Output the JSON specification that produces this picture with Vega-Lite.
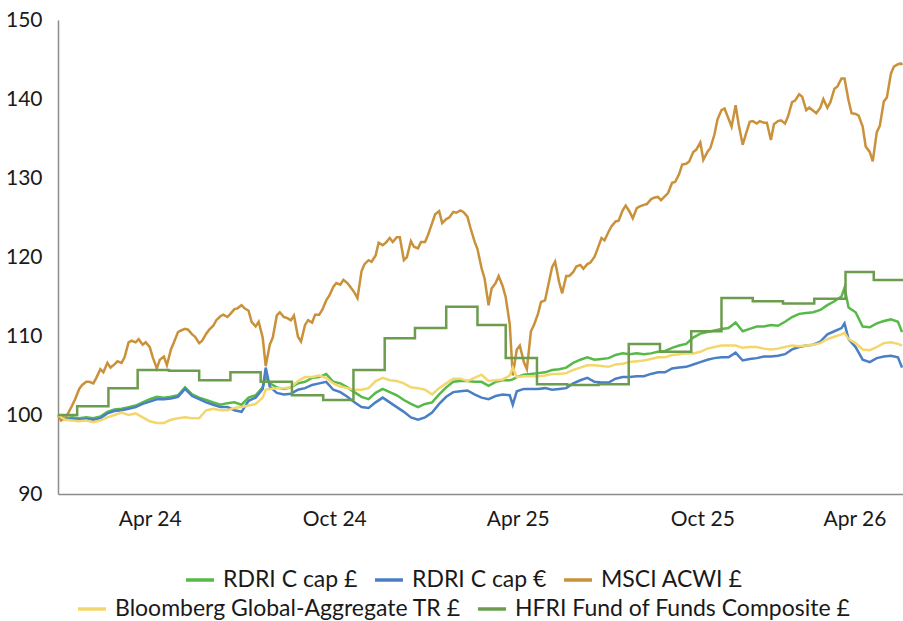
{
  "$schema": "https://vega.github.io/schema/vega-lite/v6.json",
  "width": 845,
  "height": 474,
  "autosize": {"type": "none"},
  "padding": {"left": 58, "top": 20, "right": 0, "bottom": 127},
  "config": {
    "view": {"stroke": null},
    "font": "Lato",
    "axis": {"grid": false, "ticks": false, "domainColor": "#8c8c8c", "domainWidth": 1.5, "labelFont": "Lato", "labelFontSize": 21, "labelColor": "#1a1a1a", "title": null},
    "legend": {"labelFont": "Lato", "labelFontSize": 23, "labelColor": "#1a1a1a", "labelLimit": 0, "padding": 0}
  },
  "datasets": {
    "w": [
      {"d":"2024-01-01","g":100,"b":100,"m":100,"y":100},{"d":"2024-01-04","m":99.3},
      {"d":"2024-01-08","g":99.6,"b":99.4,"m":99.6,"y":99.4},{"d":"2024-01-11","m":100.2},
      {"d":"2024-01-15","g":99.7,"b":99.5,"m":101.2,"y":99.3},{"d":"2024-01-18","m":102.0},
      {"d":"2024-01-22","g":99.6,"b":99.4,"m":103.3,"y":99.2},{"d":"2024-01-25","m":103.8},
      {"d":"2024-01-29","g":99.7,"b":99.5,"m":104.2,"y":99.3},{"d":"2024-02-01","m":104.2},
      {"d":"2024-02-05","g":99.6,"b":99.4,"m":104.0,"y":99.1},{"d":"2024-02-08","m":104.7},
      {"d":"2024-02-12","g":99.8,"b":99.6,"m":105.8,"y":99.3},{"d":"2024-02-15","m":105.4},
      {"d":"2024-02-19","g":100.4,"b":100.2,"m":106.6,"y":99.7},{"d":"2024-02-22","m":106.0},
      {"d":"2024-02-26","g":100.7,"b":100.5,"m":106.4,"y":100.0},{"d":"2024-02-29","m":106.8},
      {"d":"2024-03-04","g":100.8,"b":100.6,"m":106.6,"y":100.3},{"d":"2024-03-07","m":107.3},
      {"d":"2024-03-11","g":101.0,"b":100.8,"m":109.2,"y":100.0},{"d":"2024-03-14","m":109.4},
      {"d":"2024-03-18","g":101.2,"b":101.0,"m":109.2,"y":100.2},{"d":"2024-03-21","m":109.6},
      {"d":"2024-03-25","g":101.6,"b":101.4,"m":108.9,"y":99.7},{"d":"2024-03-28","m":109.2},
      {"d":"2024-04-01","g":102.0,"b":101.7,"m":108.6,"y":99.2},{"d":"2024-04-04","m":107.3},
      {"d":"2024-04-08","g":102.3,"b":102.0,"m":105.9,"y":99.0},{"d":"2024-04-11","m":107.0},
      {"d":"2024-04-15","g":102.2,"b":102.0,"m":107.4,"y":99.0},{"d":"2024-04-18","m":106.3},
      {"d":"2024-04-22","g":102.3,"b":102.1,"m":108.3,"y":99.4},{"d":"2024-04-25","m":109.2},
      {"d":"2024-04-29","g":102.5,"b":102.3,"m":110.5,"y":99.6},{"d":"2024-05-02","m":110.7},
      {"d":"2024-05-06","g":103.5,"b":103.3,"m":110.9,"y":99.7},{"d":"2024-05-09","m":110.8},
      {"d":"2024-05-13","g":102.6,"b":102.4,"m":110.2,"y":99.6},{"d":"2024-05-16","m":109.9},
      {"d":"2024-05-20","g":102.2,"b":102.0,"m":109.1,"y":99.6},{"d":"2024-05-23","m":109.4},
      {"d":"2024-05-27","g":101.9,"b":101.6,"m":110.3,"y":100.6},{"d":"2024-05-30","m":110.8},
      {"d":"2024-06-03","g":101.6,"b":101.3,"m":111.3,"y":100.8},{"d":"2024-06-06","m":112.0},
      {"d":"2024-06-10","g":101.3,"b":101.0,"m":112.5,"y":100.6},{"d":"2024-06-13","m":112.7},
      {"d":"2024-06-17","g":101.5,"b":101.0,"m":112.4,"y":100.6},{"d":"2024-06-20","m":112.8},
      {"d":"2024-06-24","g":101.6,"b":100.6,"m":113.4,"y":100.9},{"d":"2024-06-27","m":113.5},
      {"d":"2024-07-01","g":101.3,"b":100.4,"m":113.9,"y":101.0},{"d":"2024-07-04","m":113.5},
      {"d":"2024-07-08","g":102.2,"b":101.8,"m":113.2,"y":101.2},{"d":"2024-07-11","m":111.8},
      {"d":"2024-07-15","g":102.5,"b":102.2,"m":111.2,"y":101.4},{"d":"2024-07-18","m":111.8},
      {"d":"2024-07-22","g":103.5,"b":103.3,"m":109.8,"y":102.2},{"d":"2024-07-25","g":104.8,"b":106.0,"m":106.2,"y":103.2},
      {"d":"2024-07-29","g":104.0,"b":103.6,"m":108.9,"y":103.3},{"d":"2024-08-01","m":109.8},
      {"d":"2024-08-05","g":103.5,"b":102.8,"m":112.6,"y":103.4},{"d":"2024-08-08","m":113.0},
      {"d":"2024-08-12","g":103.3,"b":102.6,"m":112.4,"y":103.4},{"d":"2024-08-15","m":112.3},
      {"d":"2024-08-19","g":103.5,"b":102.7,"m":112.0,"y":103.5},{"d":"2024-08-22","m":112.6},
      {"d":"2024-08-26","g":104.0,"b":103.2,"m":109.9,"y":104.3},{"d":"2024-08-29","m":109.3},
      {"d":"2024-09-02","g":104.2,"b":103.4,"m":111.4,"y":104.8},{"d":"2024-09-05","m":112.0},
      {"d":"2024-09-09","g":104.7,"b":103.8,"m":111.7,"y":104.8},{"d":"2024-09-12","m":112.7},
      {"d":"2024-09-16","g":104.8,"b":104.0,"m":112.7,"y":105.0},{"d":"2024-09-19","m":113.3},
      {"d":"2024-09-23","g":105.2,"b":104.2,"m":114.5,"y":104.7},{"d":"2024-09-26","m":115.1},
      {"d":"2024-09-30","g":104.2,"b":103.2,"m":116.2,"y":104.0},{"d":"2024-10-03","m":116.7},
      {"d":"2024-10-07","g":104.0,"b":102.9,"m":116.5,"y":103.6},{"d":"2024-10-10","m":117.1},
      {"d":"2024-10-14","g":103.5,"b":102.3,"m":116.7,"y":103.4},{"d":"2024-10-17","m":116.2},
      {"d":"2024-10-21","g":102.9,"b":101.6,"m":115.5,"y":103.2},{"d":"2024-10-24","m":114.8},
      {"d":"2024-10-28","g":102.3,"b":101.0,"m":118.2,"y":103.2},{"d":"2024-10-31","m":119.1},
      {"d":"2024-11-04","g":102.0,"b":100.9,"m":119.6,"y":103.4},{"d":"2024-11-07","m":119.4},
      {"d":"2024-11-11","g":102.8,"b":101.6,"m":120.2,"y":104.3},{"d":"2024-11-14","m":121.8},
      {"d":"2024-11-18","g":103.3,"b":102.2,"m":121.5,"y":104.7},{"d":"2024-11-21","m":121.8},
      {"d":"2024-11-25","g":102.9,"b":101.6,"m":122.4,"y":104.4},{"d":"2024-11-28","m":121.9},
      {"d":"2024-12-02","g":102.5,"b":101.0,"m":122.5,"y":104.3},{"d":"2024-12-05","m":122.5},
      {"d":"2024-12-09","g":101.9,"b":100.4,"m":119.6,"y":104.0},{"d":"2024-12-12","m":120.0},
      {"d":"2024-12-16","g":101.4,"b":99.7,"m":122.0,"y":103.5},{"d":"2024-12-19","m":121.3},
      {"d":"2024-12-23","g":101.0,"b":99.4,"m":121.1,"y":103.4},{"d":"2024-12-26","m":121.9},
      {"d":"2024-12-30","g":101.4,"b":99.7,"m":121.9,"y":103.2},{"d":"2025-01-02","m":122.8},
      {"d":"2025-01-06","g":101.6,"b":100.3,"m":124.3,"y":102.6},{"d":"2025-01-09","m":125.4},
      {"d":"2025-01-13","g":102.6,"b":101.4,"m":125.8,"y":103.4},{"d":"2025-01-16","m":124.3},
      {"d":"2025-01-20","g":103.5,"b":102.3,"m":124.8,"y":104.0},{"d":"2025-01-23","m":125.0},
      {"d":"2025-01-27","g":104.2,"b":102.9,"m":125.7,"y":104.6},{"d":"2025-01-30","m":125.6},
      {"d":"2025-02-03","g":104.3,"b":103.0,"m":125.9,"y":104.6},{"d":"2025-02-06","m":125.7},
      {"d":"2025-02-10","g":104.3,"b":103.1,"m":125.1,"y":104.3},{"d":"2025-02-13","m":123.7},
      {"d":"2025-02-17","g":104.2,"b":102.6,"m":122.0,"y":104.7},{"d":"2025-02-20","m":121.0},
      {"d":"2025-02-24","g":104.2,"b":102.2,"m":118.6,"y":105.1},{"d":"2025-02-27","m":117.3},
      {"d":"2025-03-03","g":103.7,"b":102.0,"m":113.9,"y":104.3},{"d":"2025-03-06","m":116.0},
      {"d":"2025-03-10","g":104.2,"b":102.4,"m":116.7,"y":104.4},{"d":"2025-03-13","m":117.6},
      {"d":"2025-03-17","g":104.4,"b":102.6,"m":116.3,"y":104.5},{"d":"2025-03-20","m":114.9},
      {"d":"2025-03-24","g":104.4,"b":102.5,"m":111.5,"y":105.0},{"d":"2025-03-27","g":104.5,"b":101.3,"m":105.0,"y":106.0},
      {"d":"2025-03-31","g":104.8,"b":103.0,"m":108.3,"y":104.8},{"d":"2025-04-03","m":108.8},
      {"d":"2025-04-07","g":105.1,"b":103.3,"m":106.7,"y":104.9},{"d":"2025-04-10","m":105.8},
      {"d":"2025-04-14","g":105.2,"b":103.3,"m":110.6,"y":104.9},{"d":"2025-04-17","m":111.4},
      {"d":"2025-04-21","g":105.3,"b":103.3,"m":112.8,"y":104.9},{"d":"2025-04-24","m":114.3},
      {"d":"2025-04-28","g":105.4,"b":103.4,"m":114.5,"y":105.0},{"d":"2025-05-01","m":116.3},
      {"d":"2025-05-05","g":105.7,"b":103.2,"m":118.7,"y":105.2},{"d":"2025-05-08","m":119.4},
      {"d":"2025-05-12","g":105.8,"b":103.3,"m":116.8,"y":105.2},{"d":"2025-05-15","m":115.4},
      {"d":"2025-05-19","g":106.0,"b":103.4,"m":117.6,"y":105.3},{"d":"2025-05-22","m":117.6},
      {"d":"2025-05-26","g":106.6,"b":104.0,"m":118.1,"y":105.7},{"d":"2025-05-29","m":118.8},
      {"d":"2025-06-02","g":107.0,"b":104.4,"m":119.0,"y":106.0},{"d":"2025-06-05","m":118.5},
      {"d":"2025-06-09","g":107.3,"b":104.7,"m":119.1,"y":106.3},{"d":"2025-06-12","m":119.3},
      {"d":"2025-06-16","g":107.0,"b":104.2,"m":120.0,"y":106.3},{"d":"2025-06-19","m":121.0},
      {"d":"2025-06-23","g":107.1,"b":104.1,"m":122.4,"y":106.2},{"d":"2025-06-26","m":122.1},
      {"d":"2025-06-30","g":107.2,"b":104.1,"m":123.2,"y":106.1},{"d":"2025-07-03","m":123.9},
      {"d":"2025-07-07","g":107.6,"b":104.6,"m":124.5,"y":106.4},{"d":"2025-07-10","m":124.6},
      {"d":"2025-07-14","g":107.8,"b":104.8,"m":125.9,"y":106.5},{"d":"2025-07-17","m":126.5},
      {"d":"2025-07-21","g":107.7,"b":104.8,"m":125.7,"y":106.7},{"d":"2025-07-24","m":124.9},
      {"d":"2025-07-28","g":107.8,"b":104.9,"m":126.2,"y":106.8},{"d":"2025-07-31","m":126.4},
      {"d":"2025-08-04","g":107.7,"b":104.9,"m":126.6,"y":106.9},{"d":"2025-08-07","m":126.7},
      {"d":"2025-08-11","g":107.8,"b":105.2,"m":127.3,"y":107.1},{"d":"2025-08-14","m":127.5},
      {"d":"2025-08-18","g":108.0,"b":105.4,"m":127.6,"y":107.3},{"d":"2025-08-21","m":127.2},
      {"d":"2025-08-25","g":108.1,"b":105.4,"m":127.7,"y":107.3},{"d":"2025-08-28","m":128.1},
      {"d":"2025-09-01","g":108.5,"b":105.9,"m":129.4,"y":107.6},{"d":"2025-09-04","m":129.5},
      {"d":"2025-09-08","g":108.8,"b":106.0,"m":130.5,"y":107.7},{"d":"2025-09-11","m":131.7},
      {"d":"2025-09-15","g":109.0,"b":106.1,"m":131.8,"y":107.8},{"d":"2025-09-18","m":132.1},
      {"d":"2025-09-22","g":109.8,"b":106.4,"m":133.3,"y":107.8},{"d":"2025-09-25","m":133.6},
      {"d":"2025-09-29","g":110.3,"b":106.7,"m":134.5,"y":108.0},{"d":"2025-10-02","m":132.3},
      {"d":"2025-10-06","g":110.5,"b":107.0,"m":133.3,"y":108.4},{"d":"2025-10-09","m":133.8},
      {"d":"2025-10-13","g":110.7,"b":107.2,"m":135.5,"y":108.6},{"d":"2025-10-16","m":137.4},
      {"d":"2025-10-20","g":110.9,"b":107.3,"m":138.6,"y":108.8},{"d":"2025-10-23","m":138.8},
      {"d":"2025-10-27","g":111.0,"b":107.3,"m":137.5,"y":108.8},{"d":"2025-10-30","m":136.5},
      {"d":"2025-11-03","g":111.7,"b":107.9,"m":139.2,"y":108.8},{"d":"2025-11-06","m":136.8},
      {"d":"2025-11-10","g":110.6,"b":106.9,"m":134.2,"y":108.5},{"d":"2025-11-13","m":135.5},
      {"d":"2025-11-17","g":110.9,"b":107.1,"m":137.1,"y":108.6},{"d":"2025-11-20","m":137.2},
      {"d":"2025-11-24","g":111.2,"b":107.2,"m":136.9,"y":108.6},{"d":"2025-11-27","m":137.2},
      {"d":"2025-12-01","g":111.2,"b":107.4,"m":137.0,"y":108.4},{"d":"2025-12-04","m":137.0},
      {"d":"2025-12-08","g":111.4,"b":107.4,"m":134.8,"y":108.3},{"d":"2025-12-11","m":136.8},
      {"d":"2025-12-15","g":111.3,"b":107.5,"m":137.2,"y":108.4},{"d":"2025-12-18","m":137.3},
      {"d":"2025-12-22","g":111.8,"b":107.7,"m":136.9,"y":108.6},{"d":"2025-12-25","m":137.8},
      {"d":"2025-12-29","g":112.4,"b":108.3,"m":139.6,"y":108.8},{"d":"2026-01-01","m":139.8},
      {"d":"2026-01-05","g":112.8,"b":108.6,"m":140.6,"y":108.7},{"d":"2026-01-08","m":140.3},
      {"d":"2026-01-12","g":112.9,"b":108.8,"m":138.6,"y":108.8},{"d":"2026-01-15","m":138.9},
      {"d":"2026-01-19","g":113.0,"b":108.9,"m":138.5,"y":108.9},{"d":"2026-01-22","m":138.2},
      {"d":"2026-01-26","g":113.3,"b":109.3,"m":138.9,"y":109.1},{"d":"2026-01-29","m":140.0},
      {"d":"2026-02-02","g":113.9,"b":110.2,"m":138.9,"y":109.6},{"d":"2026-02-05","m":139.6},
      {"d":"2026-02-09","g":114.4,"b":110.6,"m":141.3,"y":109.9},{"d":"2026-02-12","m":141.6},
      {"d":"2026-02-16","g":115.0,"b":111.0,"m":142.6,"y":110.2},{"d":"2026-02-19","g":116.1,"b":111.6,"m":142.6,"y":110.4},
      {"d":"2026-02-23","g":113.6,"b":109.6,"m":139.8,"y":109.6},{"d":"2026-02-26","m":138.2},
      {"d":"2026-03-02","g":113.0,"b":108.6,"m":138.1,"y":109.1},{"d":"2026-03-05","m":137.9},
      {"d":"2026-03-09","g":111.2,"b":107.0,"m":136.5,"y":108.3},{"d":"2026-03-12","m":134.0},
      {"d":"2026-03-16","g":111.1,"b":106.7,"m":133.3,"y":108.2},{"d":"2026-03-19","m":132.1},
      {"d":"2026-03-23","g":111.6,"b":107.2,"m":135.8,"y":108.6},{"d":"2026-03-26","m":136.6},
      {"d":"2026-03-30","g":111.9,"b":107.4,"m":139.7,"y":109.1},{"d":"2026-04-02","m":140.2},
      {"d":"2026-04-06","g":112.1,"b":107.5,"m":143.2,"y":109.2},{"d":"2026-04-09","m":144.1},
      {"d":"2026-04-13","g":111.8,"b":107.3,"m":144.4,"y":109.0},{"d":"2026-04-16","m":144.5},
      {"d":"2026-04-17","g":110.5,"b":106.0,"m":144.3,"y":108.8}
    ],
    "h": [
      {"d":"2024-01-01","v":100.0},{"d":"2024-01-20","v":101.1},{"d":"2024-02-20","v":103.4},
      {"d":"2024-03-20","v":105.7},{"d":"2024-04-20","v":105.6},{"d":"2024-05-20","v":104.4},
      {"d":"2024-06-20","v":105.4},{"d":"2024-07-20","v":104.2},{"d":"2024-08-20","v":102.5},
      {"d":"2024-09-20","v":101.9},{"d":"2024-10-20","v":105.7},{"d":"2024-11-20","v":109.7},
      {"d":"2024-12-20","v":111.0},{"d":"2025-01-20","v":113.7},{"d":"2025-02-20","v":111.4},
      {"d":"2025-03-20","v":107.2},{"d":"2025-04-20","v":103.9},{"d":"2025-05-20","v":103.8},
      {"d":"2025-06-20","v":103.9},{"d":"2025-07-20","v":109.0},{"d":"2025-08-20","v":108.0},
      {"d":"2025-09-20","v":110.6},{"d":"2025-10-20","v":114.8},{"d":"2025-11-20","v":114.4},
      {"d":"2025-12-20","v":114.1},{"d":"2026-01-20","v":114.7},{"d":"2026-02-20","v":118.1},
      {"d":"2026-03-20","v":117.1},{"d":"2026-04-18","v":117.1}
    ]
  },
  "encoding": {
    "x": {
      "field": "d", "type": "temporal",
      "scale": {"type": "utc", "domain": [{"year": 2024, "month": 1, "date": 1, "utc": true}, {"year": 2026, "month": 4, "date": 18, "utc": true}]},
      "axis": {
        "values": [
          {"year": 2024, "month": 4, "date": 1, "utc": true},
          {"year": 2024, "month": 10, "date": 1, "utc": true},
          {"year": 2025, "month": 4, "date": 1, "utc": true},
          {"year": 2025, "month": 10, "date": 1, "utc": true},
          {"year": 2026, "month": 4, "date": 1, "utc": true}
        ],
        "format": "%b %y", "labelPadding": 14, "labelFlush": 25
      }
    }
  },
  "layer": [
    {
      "data": {"name": "w"},
      "transform": [{"fold": ["g", "b", "m"], "as": ["s", "v"]}, {"filter": "isValid(datum.v)"}],
      "mark": {"type": "line", "strokeWidth": 2.5},
      "encoding": {
        "y": {"field": "v", "type": "quantitative", "scale": {"domain": [90, 150], "nice": false, "zero": false}, "axis": {"values": [90, 100, 110, 120, 130, 140, 150], "labelPadding": 16}},
        "color": {
          "field": "s", "type": "nominal",
          "scale": {"domain": ["g", "b", "m"], "range": ["#57b947", "#4a7fc6", "#c9913a"]},
          "legend": {"orient": "none", "legendX": 126, "legendY": 544, "direction": "horizontal", "title": null, "symbolType": "stroke", "symbolStrokeWidth": 3.5, "symbolSize": 784, "labelOffset": 7, "columnPadding": 10,
            "labelExpr": "datum.label == 'g' ? 'RDRI C cap £' : datum.label == 'b' ? 'RDRI C cap €' : 'MSCI ACWI £'"}
        }
      }
    },
    {
      "data": {"name": "w"},
      "transform": [{"fold": ["y"], "as": ["s", "v"]}, {"filter": "isValid(datum.v)"}],
      "mark": {"type": "line", "strokeWidth": 2.5},
      "encoding": {
        "y": {"field": "v", "type": "quantitative"},
        "stroke": {
          "field": "s", "type": "nominal",
          "scale": {"domain": ["y", "h"], "range": ["#f3d76c", "#6c9c4e"]},
          "legend": {"orient": "none", "legendX": 18, "legendY": 573, "direction": "horizontal", "title": null, "symbolType": "stroke", "symbolStrokeWidth": 3.5, "symbolSize": 784, "labelOffset": 7, "columnPadding": 10,
            "labelExpr": "datum.label == 'y' ? 'Bloomberg Global-Aggregate TR £' : 'HFRI Fund of Funds Composite £'"}
        }
      }
    },
    {
      "data": {"name": "h"},
      "mark": {"type": "line", "strokeWidth": 2.5, "interpolate": "step-after"},
      "encoding": {
        "y": {"field": "v", "type": "quantitative"},
        "stroke": {"datum": "h", "type": "nominal"}
      }
    }
  ]
}
